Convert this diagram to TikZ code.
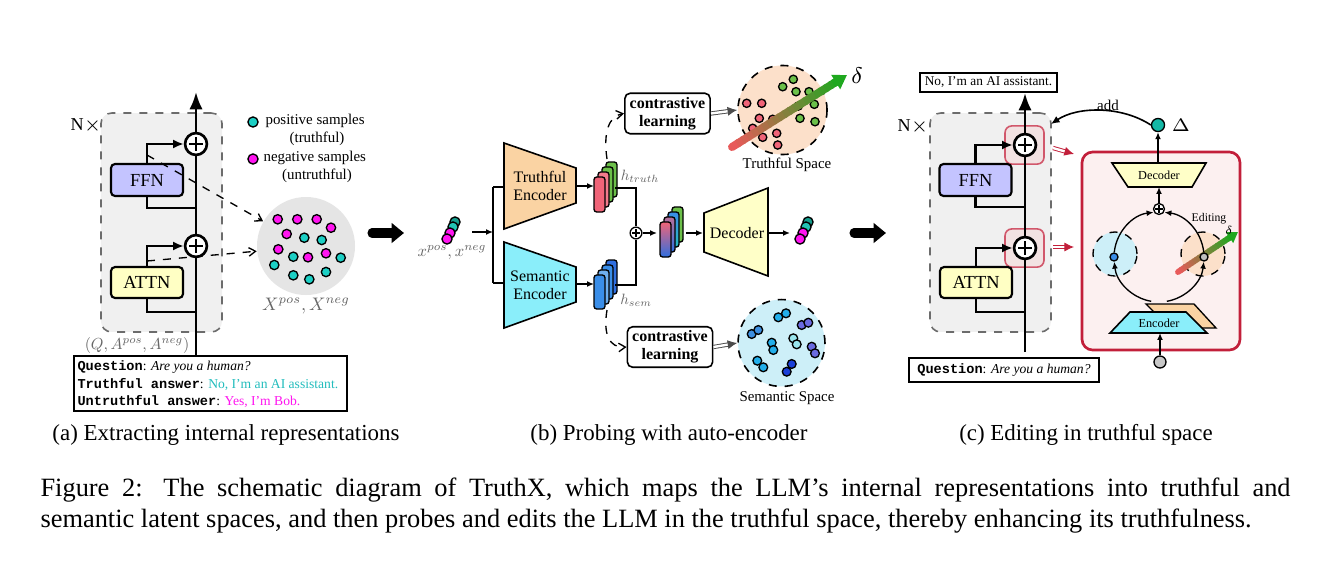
\RequirePackage{fix-cm}
\documentclass[tikz,border=0pt]{standalone}
\usepackage{graphicx}
\usepackage{fontspec}
\setmainfont{Liberation Serif}
\setmonofont{Liberation Mono}
\usetikzlibrary{arrows.meta,calc}
\definecolor{ffn}{HTML}{C4C4FF}
\definecolor{attn}{HTML}{FFFFC4}
\definecolor{poscol}{HTML}{1CCFC4}
\definecolor{negcol}{HTML}{FF14F0}
\definecolor{postxt}{HTML}{22BDBD}
\definecolor{boxgray}{HTML}{F0F0F0}
\definecolor{peach}{HTML}{FAD3A3}
\definecolor{cyanenc}{HTML}{8AEEFA}
\definecolor{decy}{HTML}{FFFFC8}
\definecolor{redpt}{HTML}{F06478}
\definecolor{greenpt}{HTML}{6CC04A}
\definecolor{tspace}{HTML}{FCE0CA}
\definecolor{sspace}{HTML}{CDEFF8}
\definecolor{crim}{HTML}{C21F3A}
\definecolor{editbg}{HTML}{FCF0F0}
\definecolor{plusbg}{HTML}{F2E2E2}
\definecolor{gradR}{HTML}{E85A5A}
\definecolor{gradG}{HTML}{1FA81F}
\definecolor{deltac}{HTML}{14B8A6}
\definecolor{tealA}{HTML}{169E8E}
\definecolor{tealB}{HTML}{22C4B4}
\definecolor{bA}{HTML}{3A8EE8}
\definecolor{bB}{HTML}{6FB0F0}
\definecolor{bC}{HTML}{2F6FE0}
\definecolor{sA}{HTML}{22AEEA}
\definecolor{sB}{HTML}{6A6AE0}
\definecolor{sC}{HTML}{3D8FE0}
\definecolor{sD}{HTML}{99E6EE}
\definecolor{sE}{HTML}{1A3FD8}
\newcommand\gradarrow[6]{%
  \foreach \k in {0,...,19}{%
    \pgfmathsetmacro\pa{#6*\k/20}%
    \pgfmathsetmacro\pb{#6*(\k+1.3)/20}%
    \pgfmathtruncatemacro\pc{\k*5}%
    \ifnum\k=0
      \draw[line width=#3, line cap=round, color=gradG!\pc!gradR] ($(#1)!\pa!(#2)$) -- ($(#1)!\pb!(#2)$);
    \else
      \draw[line width=#3, color=gradG!\pc!gradR] ($(#1)!\pa!(#2)$) -- ($(#1)!\pb!(#2)$);
    \fi}%
  \draw[line width=#3, color=gradG, -{Triangle[length=#4,width=#5]}] ($(#1)!#6-0.02!(#2)$) -- (#2);}
\newcommand\smath[2]{\scalebox{#1}{\fontsize{10pt}{12pt}\selectfont$#2$}}
\tikzset{
  smp/.style={circle, draw, line width=0.5pt, inner sep=0pt, minimum size=#1},
  smp/.default=3.5pt,
  thk/.style={line width=1pt},
  tip/.style={-{Latex[length=4pt,width=3.4pt]}},
  thin/.style={line width=0.5pt},
  stip/.style={-{Latex[length=2.6pt,width=2.2pt]}},
  blk/.style={draw, line width=0.8pt, rounded corners=1.5pt, inner sep=0pt},
  plusc/.style={circle, draw, line width=1pt, fill=white, minimum size=8.2pt, inner sep=0pt,
    path picture={\draw[line width=0.9pt] ([xshift=-2.5pt]path picture bounding box.center) -- ([xshift=2.5pt]path picture bounding box.center) ([yshift=-2.5pt]path picture bounding box.center) -- ([yshift=2.5pt]path picture bounding box.center);}},
  splus/.style={circle, draw, line width=0.5pt, fill=white, minimum size=4.4pt, inner sep=0pt,
    path picture={\draw[line width=0.45pt] ([xshift=-1.4pt]path picture bounding box.center) -- ([xshift=1.4pt]path picture bounding box.center) ([yshift=-1.4pt]path picture bounding box.center) -- ([yshift=1.4pt]path picture bounding box.center);}},
  layer/.style={draw=gray!85!black, dashed, line width=0.6pt, fill=boxgray, rounded corners=4pt, inner sep=0pt},
  dasharr/.style={dashed, line width=0.5pt, -{Straight Barb[length=2.5pt,width=3.2pt]}},
  mlab/.style={text=black!60, inner sep=0pt},
  clbox/.style={draw, line width=0.6pt, rounded corners=2pt, align=center, font=\fontsize{6pt}{6.9pt}\selectfont\bfseries, minimum width=32pt, minimum height=15.2pt, inner sep=0pt},
  space/.style={circle, draw, dashed, line width=0.6pt},
  dblarr/.style={line width=0.35pt, double=white, double distance=0.9pt, -{Latex[length=3.6pt,width=3.4pt]}},
}
\begin{document}
\begin{tikzpicture}[x=0.375pt, y=-0.375pt]
\useasboundingbox[fill=white] (0,0) rectangle (1317,569);

% ================= Panel (a) =================
\node[layer, minimum width=45.4pt, minimum height=82.1pt] (layA) at (161.5,222.5) {};
\node[font=\fontsize{6.8pt}{7pt}\selectfont] (nA) at (86,126) {N$\times$};
\node[blk, fill=ffn, minimum width=27pt, minimum height=12pt, font=\fontsize{6.9pt}{7pt}\selectfont] (ffnA) at (147,180) {FFN};
\node[blk, fill=attn, minimum width=27pt, minimum height=11.6pt, font=\fontsize{6.9pt}{7pt}\selectfont] (attnA) at (147,282.5) {ATTN};
\node[plusc] (pA1) at (196,144) {};
\node[plusc] (pA2) at (196,246) {};
\node[draw, line width=0.8pt, minimum width=102.4pt, minimum height=20.6pt, inner sep=0pt] (qA) at (210.5,383.5) {};
\node[anchor=west, align=left, inner sep=0pt, font=\fontsize{5.1pt}{6.6pt}\selectfont] (qAt) at (77,384.5)
  {\texttt{\textbf{Question}}: \textit{Are you a human?}\\
   \texttt{\textbf{Truthful answer}}: \textcolor{postxt}{No, I’m an AI assistant.}\\
   \texttt{\textbf{Untruthful answer}}: \textcolor{negcol}{Yes, I’m Bob.}};
\coordinate (topA) at (196,92);
\coordinate (fA) at (196,208);
\coordinate (aA) at (196,312);
\draw[thk] (qA.north -| pA2.south) -- (pA2.south);
\draw[thk] (pA2.north) -- (pA1.south);
\draw[thk, -{Latex[length=6.5pt,width=5pt]}] (pA1.north) -- (topA);
\draw[thk] (fA) -| (ffnA.south);
\draw[thk, tip] (ffnA.north) |- (pA1.west);
\draw[thk] (aA) -| (attnA.south);
\draw[thk, tip] (attnA.north) |- (pA2.west);
\node[mlab] (qlab) at (137,345) {\smath{0.6}{(Q,A^{pos},A^{neg})}};

% sample cloud
\node[circle, fill=black!10, minimum size=36.75pt, inner sep=0pt] (samp) at (306,246) {};
\coordinate (dA1) at (147,155);
\coordinate (dA2) at (147,261);
\draw[dasharr] (dA1) -- (samp.150);
\draw[dasharr] (dA2) -- (samp.186);
\foreach \px/\py in {277.7/219.3, 297.3/219.3, 316.7/219.3, 331/227.7, 286.7/234, 278.3/249.3, 308/257.3, 326/253.3}
  \node[smp, fill=negcol] at (\px,\py) {};
\foreach \px/\py in {304.3/237.7, 321.7/240, 293.3/256.7, 340.7/257.7, 274.3/265, 293.3/275.3, 309.3/279.3, 326/272}
  \node[smp, fill=poscol] at (\px,\py) {};
\node[mlab] (xlab) at (306,306) {\smath{0.68}{X^{pos},X^{neg}}};

% legend
\node[smp=3.8pt, fill=poscol] (lg1) at (253,122) {};
\node[anchor=west, font=\fontsize{5.6pt}{6pt}\selectfont, inner sep=0pt] at (265,121) {positive samples};
\node[font=\fontsize{5.6pt}{6pt}\selectfont, inner sep=0pt] at (317,139) {(truthful)};
\node[smp=3.8pt, fill=negcol] (lg2) at (253,159) {};
\node[anchor=west, font=\fontsize{5.6pt}{6pt}\selectfont, inner sep=0pt] at (263,158) {negative samples};
\node[font=\fontsize{5.6pt}{6pt}\selectfont, inner sep=0pt] at (317,176) {(untruthful)};

% big arrow 1
\coordinate (ba1s) at (372,233);
\coordinate (ba1e) at (404,233);
\draw[line width=3.4pt, line cap=round, -{Triangle[length=4.6pt,width=7.2pt]}] (ba1s) -- (ba1e);

% ================= Panel (b) =================
\foreach \px/\py/\c in {455/222/tealA, 453/227/tealB, 450/233/negcol, 447/239/negcol}
  \node[smp=3.8pt, fill=\c] at (\px,\py) {};
\node[mlab] (xin) at (452,253) {\smath{0.62}{x^{pos},x^{neg}}};
\coordinate (xinR) at (472,232);
\coordinate (jn) at (493,232);
\draw[thin, stip] (xinR) -- (jn);
% encoders
\draw[line width=0.6pt, fill=peach] (504,143) -- (576,168) -- (576,203) -- (504,229) -- cycle;
\node[align=center, font=\fontsize{6pt}{6.9pt}\selectfont] (tenc) at (540,186) {Truthful\\Encoder};
\draw[line width=0.6pt, fill=cyanenc] (504,242) -- (576,267) -- (576,302) -- (504,328) -- cycle;
\node[align=center, font=\fontsize{6pt}{6.9pt}\selectfont] (senc) at (540,285) {Semantic\\Encoder};
\draw[thin] (493,187) -- (493,283);
\draw[thin] (493,187) -- (504,187);
\draw[thin] (493,283) -- (504,283);
\coordinate (tencR) at (576,186);
\coordinate (sencR) at (576,284);
\coordinate (htL) at (594,186);
\coordinate (hsL) at (594,284);
\draw[thin, stip] (tencR) -- (htL);
\draw[thin, stip] (sencR) -- (hsL);
% h stacks
\foreach \i/\c in {3/greenpt, 2/greenpt, 1/redpt!85!white, 0/redpt}
  \draw[fill=\c, line width=0.5pt, rounded corners=1pt] (594+4*\i, 177-5*\i) rectangle ++(11,35);
\foreach \i/\c in {3/bC, 2/bA, 1/bB, 0/bA}
  \draw[fill=\c, line width=0.5pt, rounded corners=1pt] (594+4*\i, 275-5*\i) rectangle ++(11,34);
\node[mlab] (htlab) at (640,176) {\smath{0.56}{h_{truth}}};
\node[mlab] (hslab) at (636,300) {\smath{0.56}{h_{sem}}};
\node[splus] (pB) at (636,233) {};
\coordinate (htR) at (615,188);
\coordinate (hsR) at (615,285);
\draw[thin] (htR) -| (pB.north);
\draw[thin] (hsR) -| (pB.south);
% combined stack
\draw[fill=greenpt, line width=0.5pt, rounded corners=1pt] (672,207) rectangle ++(11,35);
\draw[top color=bA, bottom color=tealB!80!bA, line width=0.5pt, rounded corners=1pt] (668,212) rectangle ++(11,35);
\draw[top color=redpt!70!bA, bottom color=bC, line width=0.5pt, rounded corners=1pt] (664,217) rectangle ++(11,35);
\draw[top color=redpt, bottom color=bC, line width=0.5pt, rounded corners=1pt] (660,222) rectangle ++(11,35);
\coordinate (csL) at (657,233);
\coordinate (csR) at (686,233);
\draw[thin, stip] (pB.east) -- (csL);
% decoder
\draw[line width=0.6pt, fill=decy] (704,213) -- (768,188) -- (768,276) -- (704,252) -- cycle;
\node[font=\fontsize{6pt}{6.9pt}\selectfont] (decB) at (737,233) {Decoder};
\coordinate (decBL) at (703,233);
\coordinate (decBR) at (768,233);
\coordinate (outBL) at (790,233);
\draw[thin, stip] (csR) -- (decBL);
\draw[thin, stip] (decBR) -- (outBL);
\foreach \px/\py/\c in {808/222/tealA, 806/227/tealB, 803/233/negcol, 800/239/negcol}
  \node[smp=3.8pt, fill=\c] at (\px,\py) {};

% contrastive learning (top)
\node[clbox] (cl1) at (667.5,113.5) {contrastive\\learning};
\coordinate (htT) at (607,159);
\draw[dasharr] (htT) .. controls (603,132) and (609,116) .. (cl1.west);
\node[space, fill=tspace, minimum size=33.4pt] (ts) at (782.5,110) {};
\draw[dblarr, draw=black!70] (cl1.east) -- (ts.west);
\foreach \px/\py in {746.7/103.3, 761.7/103.3, 759.3/118.3, 772.7/119.3, 752.7/128.3, 762.7/137.3, 776.7/133.3, 777.7/145}
  \node[smp=3.1pt, fill=redpt] at (\px,\py) {};
\foreach \px/\py in {782.7/86.7, 793.3/79.3, 796/91.7, 809/91.7, 798.3/106, 814.3/104.3, 800/118.3, 815/121.7}
  \node[smp=3.1pt, fill=greenpt] at (\px,\py) {};
\coordinate (gaS) at (732,147);
\coordinate (gaE) at (847,75);
\gradarrow{gaS}{gaE}{3pt}{5pt}{6pt}{0.9}
\node[font=\fontsize{8.5pt}{9pt}\selectfont] (dl) at (857,76) {$\delta$};
\node[font=\fontsize{5.6pt}{6pt}\selectfont] (tsl) at (787,165) {Truthful Space};

% contrastive learning (bottom)
\node[clbox] (cl2) at (670,347) {contrastive\\learning};
\coordinate (hsB) at (607,310);
\draw[dasharr] (hsB) .. controls (603,334) and (609,348) .. (cl2.west);
\node[space, fill=sspace, minimum size=32.6pt] (ss) at (781.5,343) {};
\draw[dblarr, draw=black!70] (cl2.east) -- (ss.west);
\foreach \px/\py/\c in {778.3/317.3/sA, 786/313.3/sA, 801.7/325/sB, 808.3/322.7/sB, 751.7/334/sC, 758.3/330/sC, 771.7/342.7/sA, 773.3/350/sA, 793.3/338.3/sD, 796.7/344.3/sD, 811.7/346.7/sB, 815/353.3/sB, 757.3/360.7/sA, 763.3/367.3/sA, 791.7/364/sE, 786.7/371.7/sE}
  \node[smp=3.3pt, fill=\c] at (\px,\py) {};
\node[font=\fontsize{5.6pt}{6pt}\selectfont] (ssl) at (787,398) {Semantic Space};

% big arrow 2
\coordinate (ba2s) at (854,233);
\coordinate (ba2e) at (886,233);
\draw[line width=3.4pt, line cap=round, -{Triangle[length=4.6pt,width=7.2pt]}] (ba2s) -- (ba2e);

% ================= Panel (c) =================
\node[layer, minimum width=45.4pt, minimum height=82.1pt] (layC) at (990.5,222.5) {};
\node[font=\fontsize{6.8pt}{7pt}\selectfont] (nC) at (913,127) {N$\times$};
\node[draw=crim!75, line width=0.6pt, fill=plusbg, rounded corners=2.5pt, minimum width=14.6pt, minimum height=14.3pt, inner sep=0pt] (rq1) at (1024.5,145) {};
\node[draw=crim!75, line width=0.6pt, fill=plusbg, rounded corners=2.5pt, minimum width=14.6pt, minimum height=14.3pt, inner sep=0pt] (rq2) at (1024.5,248) {};
\node[blk, fill=ffn, minimum width=27pt, minimum height=12pt, font=\fontsize{6.9pt}{7pt}\selectfont] (ffnC) at (975.5,180) {FFN};
\node[blk, fill=attn, minimum width=27pt, minimum height=11.6pt, font=\fontsize{6.9pt}{7pt}\selectfont] (attnC) at (976,282.5) {ATTN};
\node[plusc] (pC1) at (1025,145) {};
\node[plusc] (pC2) at (1025,248) {};
\node[draw, line width=0.8pt, minimum width=51.4pt, minimum height=7.1pt, inner sep=0pt, font=\fontsize{5pt}{5.5pt}\selectfont] (outC) at (988.5,82.5) {No, I’m an AI assistant.};
\node[draw, line width=0.8pt, minimum width=71.25pt, minimum height=9pt, inner sep=0pt, font=\fontsize{5.1pt}{5.5pt}\selectfont] (qC) at (1004,370) {\texttt{\textbf{Question}}: \textit{Are you a human?}};
\coordinate (botC) at (1025,352);
\coordinate (fC) at (1025,207);
\coordinate (aC) at (1025,312);
\draw[thk] (botC) -- (pC2.south);
\draw[thk] (pC2.north) -- (pC1.south);
\draw[thk, -{Latex[length=6.5pt,width=5pt]}] (pC1.north) -- (outC.south -| pC1.north);
\draw[thk] (fC) -| (ffnC.south);
\draw[thk, tip] (ffnC.north) |- (pC1.west);
\draw[thk] (aC) -| (attnC.south);
\draw[thk, tip] (attnC.north) |- (pC2.west);

% editing module
\node[draw=crim, line width=1pt, fill=editbg, rounded corners=4pt, minimum width=59.25pt, minimum height=74.25pt, inner sep=0pt] (edit) at (1161,251) {};
\coordinate (ra1s) at (1053,148);
\coordinate (ra1e) at (1074,154);
\coordinate (ra2s) at (1053,247);
\coordinate (ra2e) at (1074,247);
\draw[dblarr, draw=crim] (ra1s) -- (ra1e);
\draw[dblarr, draw=crim] (ra2s) -- (ra2e);
% decoder (c)
\draw[line width=0.6pt, fill=decy] (1112,163) -- (1206,163) -- (1192,187) -- (1128,187) -- cycle;
\node[font=\fontsize{4.6pt}{5pt}\selectfont] (decC) at (1159,175) {Decoder};
\node[smp=4.9pt, fill=deltac] (dC) at (1158,125) {};
\node[font=\fontsize{6.8pt}{7pt}\selectfont] (dCl) at (1181,125) {$\Delta$};
\coordinate (decCT) at (1158,163);
\coordinate (decCB) at (1159,187);
\draw[thin, stip] (decCT) -- (dC.south);
\coordinate (layCR) at (1051,124);
\draw[line width=0.6pt, -{Latex[length=3.2pt,width=2.8pt]}] (dC.west) .. controls (1122,106) and (1078,106) .. (layCR);
\node[font=\fontsize{5.6pt}{6pt}\selectfont] (addl) at (1108,105) {add};
\node[splus, minimum size=4.1pt] (pC3) at (1159,209) {};
\draw[thin, stip] (pC3.north) -- (decCB);
% latent circles
\coordinate (cc) at (1159,257);
\node[space, fill=sspace, minimum size=16.5pt, line width=0.5pt] (bsp) at (1115,254) {};
\node[space, fill=tspace, minimum size=16.5pt, line width=0.5pt] (tsp) at (1203,254) {};
\coordinate (geS) at (1178,272);
\coordinate (geE) at (1238,232);
\gradarrow{geS}{geE}{2.2pt}{3.8pt}{4.6pt}{0.86}
\draw[thin, stip] ($(cc)+(-260:45)$) arc[start angle=-260, end angle=-186, radius=45];
\draw[thin, stip] ($(cc)+(-174:45)$) arc[start angle=-174, end angle=-97, radius=45];
\draw[thin, stip] ($(cc)+(-280:45)$) arc[start angle=-280, end angle=-354, radius=45];
\draw[thin, stip] ($(cc)+(-6:45)$) arc[start angle=-6, end angle=-83, radius=45];
\node[smp=3pt, fill=bA] (bdot) at (1114,257) {};
\node[smp=3pt, fill=black!25] (gdot) at (1204,257) {};
\node[font=\fontsize{4.4pt}{5pt}\selectfont] (edl) at (1209,219) {Editing};
\node[font=\fontsize{4.4pt}{5pt}\selectfont] (edd) at (1229,230) {$\delta$};
% encoder (c)
\draw[line width=0.5pt, fill=peach] (1146,304) -- (1194,304) -- (1216,328) -- (1170,328) -- cycle;
\draw[line width=0.6pt, fill=cyanenc] (1130,312) -- (1186,312) -- (1207,333) -- (1110,333) -- cycle;
\node[font=\fontsize{4.6pt}{5pt}\selectfont] (encC) at (1159,323) {Encoder};
\node[smp=4.5pt, fill=black!22] (gin) at (1160,362) {};
\coordinate (encCB) at (1160,333);
\draw[thin, stip] (gin.north) -- (encCB);

% ================= captions =================
\node[anchor=base, font=\fontsize{8.6pt}{9pt}\selectfont] (capa) at (226,440) {(a) Extracting internal representations};
\node[anchor=base, font=\fontsize{8.6pt}{9pt}\selectfont] (capb) at (669,440) {(b) Probing with auto-encoder};
\node[anchor=base, font=\fontsize{8.6pt}{9pt}\selectfont] (capc) at (1086,440) {(c) Editing in truthful space};
\node[anchor=base west, inner sep=0pt, font=\fontsize{9.9pt}{10pt}\selectfont] (cap1) at (40,496) {\makebox[468.75pt][s]{Figure 2: The schematic diagram of TruthX, which maps the LLM’s internal representations into truthful and}};
\node[anchor=base west, inner sep=0pt, font=\fontsize{9.9pt}{10pt}\selectfont] (cap2) at (40,527) {semantic latent spaces, and then probes and edits the LLM in the truthful space, thereby enhancing its truthfulness.};
\end{tikzpicture}
\end{document}
